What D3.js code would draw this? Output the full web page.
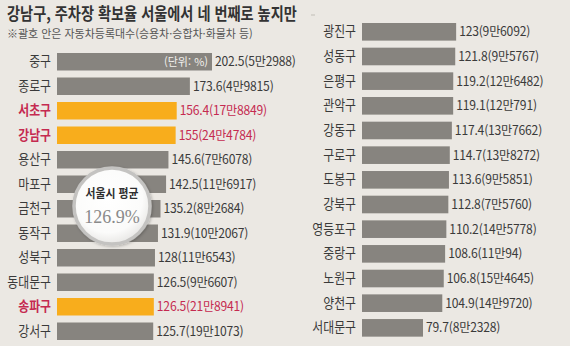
<!DOCTYPE html>
<html lang="ko">
<head>
<meta charset="utf-8">
<script src="https://cdn.jsdelivr.net/npm/d3@7/dist/d3.min.js"></script>
<style>
  html, body { margin: 0; padding: 0; background: #ebe8e3; }
  svg { display: block; }
  text { font-family: "Noto Sans CJK KR", "Noto Sans", sans-serif; }
</style>
</head>
<body>
<svg id="chart" width="570" height="346"></svg>
<script>
// 서울 자치구별 주차장 확보율(%)과 자동차등록대수
const leftDistricts = ['중구','종로구','서초구','강남구','용산구','마포구','금천구','동작구','성북구','동대문구','송파구','강서구'];
const leftRates = [202.5,173.6,156.4,155,145.6,142.5,135.2,131.9,128,126.5,126.5,125.7];
const leftCars = ['5만2988','4만9815','17만8849','24만4784','7만6078','11만6917','8만2684','10만2067','11만6543','9만6607','21만8941','19만1073'];

const rightDistricts = ['광진구','성동구','은평구','관악구','강동구','구로구','도봉구','강북구','영등포구','중랑구','노원구','양천구','서대문구'];
const rightRates = [123,121.8,119.2,119.1,117.4,114.7,113.6,112.8,110.2,108.6,106.8,104.9,79.7];
const rightCars = ['9만6092','9만5767','12만6482','12만791','13만7662','13만8272','9만5851','7만5760','14만5778','11만94','15만4645','14만9720','8만2328'];

const highlighted = ['서초구','강남구','송파구'];
const seoulAverage = 126.9;

const titleText = '강남구, 주차장 확보율 서울에서 네 번째로 높지만';
const noteText = '※괄호 안은 자동차등록대수(승용차·승합차·화물차 등)';
const unitText = '(단위: %)';

const svg = d3.select('#chart');
const C = {
  bar: '#87847f',
  hi: '#f8ad1c',
  hiText: '#c52a50',
  text: '#3a3a3a'
};

// shared length scale for both columns
const x = d3.scaleLinear().domain([0, 202.5]).range([0, 155]);

// squeeze a text horizontally so it spans the given width
function fitWidth(sel, x0, y0, width) {
  const w = sel.node().getComputedTextLength();
  sel.attr('transform', `translate(${x0},${y0}) scale(${width / w},1)`);
}

// title and note
const title = svg.append('text')
  .attr('font-size', 17).attr('font-weight', 700)
  .attr('fill', '#333')
  .text(titleText);
fitWidth(title, 7, 20, 290);
svg.append('line')
  .attr('x1', 311).attr('x2', 315).attr('y1', 15).attr('y2', 15)
  .attr('stroke', '#c9c5bf').attr('stroke-width', 1.2);
const note = svg.append('text')
  .attr('font-size', 11).attr('fill', '#555')
  .text(noteText);
fitWidth(note, 7, 38, 246);

function drawColumn(names, rates, cars, x0, labelRight, top, step) {
  const n = names.length;
  const pi = 0.286;
  const y = d3.scaleBand().domain(names)
    .range([top, top + step * (n - pi)])
    .paddingInner(pi).paddingOuter(0);

  const g = svg.append('g');
  const rows = g.selectAll('g.row')
    .data(names.map((d, i) => ({ name: d, rate: rates[i], cars: cars[i] })))
    .join('g').attr('class', 'row');

  rows.append('rect')
    .attr('x', x0)
    .attr('y', d => y(d.name))
    .attr('width', d => x(d.rate))
    .attr('height', y.bandwidth())
    .attr('fill', d => highlighted.includes(d.name) ? C.hi : C.bar);

  // district labels, slightly condensed
  rows.append('text')
    .attr('transform', d => `translate(${labelRight},${y(d.name) + y.bandwidth() / 2 + 4.5}) scale(0.88,1)`)
    .attr('text-anchor', 'end')
    .attr('font-size', 13.5)
    .attr('font-weight', d => highlighted.includes(d.name) ? 700 : 400)
    .attr('fill', d => highlighted.includes(d.name) ? C.hiText : C.text)
    .text(d => d.name);

  // value labels: rate (registered cars)
  rows.append('text')
    .attr('transform', d => `translate(${x0 + x(d.rate) + 3},${y(d.name) + y.bandwidth() / 2 + 4.5}) scale(0.97,1)`)
    .attr('font-size', 12.5)
    .attr('letter-spacing', -0.2)
    .attr('fill', d => highlighted.includes(d.name) ? C.hiText : C.text)
    .text(d => `${d.rate}(${d.cars})`);

  return y;
}

const yL = drawColumn(leftDistricts, leftRates, leftCars, 57, 51, 53, 24.5);
drawColumn(rightDistricts, rightRates, rightCars, 362, 356, 23, 24.67);

// unit label inside the first bar
svg.append('text')
  .attr('transform', `translate(${57 + x(leftRates[0]) - 4},${yL(leftDistricts[0]) + yL.bandwidth() / 2 + 4})`)
  .attr('text-anchor', 'end')
  .attr('font-size', 11)
  .attr('fill', '#f2f0ec')
  .text(unitText);

// Seoul average badge
const defs = svg.append('defs');
const grad = defs.append('radialGradient').attr('id', 'badgeFill')
  .attr('cx', '45%').attr('cy', '40%').attr('r', '60%');
grad.append('stop').attr('offset', '0%').attr('stop-color', '#ffffff');
grad.append('stop').attr('offset', '75%').attr('stop-color', '#fbfbfa');
grad.append('stop').attr('offset', '100%').attr('stop-color', '#e9e8e6');
const shadow = defs.append('filter').attr('id', 'badgeShadow')
  .attr('x', '-30%').attr('y', '-30%').attr('width', '160%').attr('height', '160%');
shadow.append('feDropShadow').attr('dx', 1).attr('dy', 1).attr('stdDeviation', 1.5)
  .attr('flood-color', '#000').attr('flood-opacity', 0.25);

const badge = svg.append('g').attr('transform', 'translate(112,206)');
badge.append('circle')
  .attr('r', 38)
  .attr('fill', 'url(#badgeFill)')
  .attr('stroke', '#c4c3c1').attr('stroke-width', 3.5)
  .attr('filter', 'url(#badgeShadow)');
const badgeLabel = badge.append('text')
  .attr('text-anchor', 'middle')
  .attr('font-size', 12).attr('font-weight', 700).attr('fill', '#2e2e2e')
  .text('서울시 평균');
fitWidth(badgeLabel, 0, -8, 53);
badge.append('text')
  .attr('y', 17).attr('text-anchor', 'middle')
  .style('font-family', '"Liberation Serif", "DejaVu Serif", serif')
  .attr('font-size', 18).attr('fill', '#8a8a8a')
  .text(`${seoulAverage}%`);
</script>
</body>
</html>
